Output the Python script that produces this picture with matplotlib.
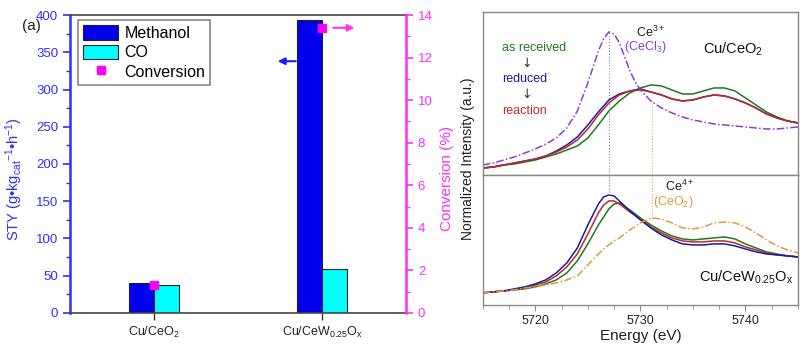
import numpy as np
import matplotlib.pyplot as plt
from matplotlib.ticker import MultipleLocator

plt.rcParams['font.family'] = ['Liberation Sans', 'DejaVu Sans']
plt.rcParams['mathtext.fontset'] = 'custom'
plt.rcParams['mathtext.rm'] = 'Liberation Sans'
plt.rcParams['mathtext.it'] = 'Liberation Sans:italic'

# ---- panel (a): bar data
catalysts = ['Cu/CeO$_2$', r'Cu/CeW$_{0.25}$O$_\mathrm{x}$']
sty_methanol = [40, 393]
sty_co = [38, 59]
conversion = [1.3, 13.4]

# ---- panel (b): Ce L3-edge XANES (arbitrary units)
e_grid = [5715, 5716, 5717, 5718, 5719, 5720, 5721, 5722, 5723, 5724, 5725,
          5726, 5727, 5728, 5729, 5730, 5731, 5732, 5733, 5734, 5735, 5736,
          5737, 5738, 5739, 5740, 5741, 5742, 5743, 5744, 5745]
top_received = [7, 8, 10, 11, 13, 15, 18, 21, 25, 29, 37, 50, 64, 74, 82, 87,
                90, 89, 85, 81, 81, 84, 87, 87, 84, 77, 70, 63, 58, 54, 52]
top_reduced = [7, 8, 10, 12, 14, 16, 19, 24, 30, 38, 50, 63, 75, 81, 84, 86,
               83, 80, 76, 74, 75, 78, 80, 79, 76, 72, 67, 61, 57, 54, 52]
top_reaction = [7, 8, 10, 12, 14, 16, 19, 23, 28, 35, 46, 60, 72, 80, 84, 85,
                83, 80, 76, 74, 75, 78, 80, 79, 76, 72, 67, 61, 57, 54, 52]

e_ref = [5715, 5716, 5717, 5718, 5719, 5720, 5721, 5722, 5723, 5724, 5725,
         5726, 5726.5, 5727, 5727.5, 5728, 5728.5, 5729, 5729.5, 5730, 5731,
         5732, 5733, 5734, 5735, 5736, 5737, 5738, 5739, 5740, 5741, 5742,
         5743, 5744, 5745]
cecl3 = [10, 12, 15, 18, 22, 26, 31, 37, 47, 64, 92, 124, 136, 143, 141, 132,
         118, 104, 93, 85, 74, 67, 62, 58, 55, 53, 51, 50, 49, 48, 47, 46, 46,
         47, 48]

e_bot = [5715, 5716, 5717, 5718, 5719, 5720, 5721, 5722, 5723, 5724, 5725,
         5726, 5726.5, 5727, 5727.5, 5728, 5729, 5730, 5731, 5732, 5733, 5734,
         5735, 5736, 5737, 5738, 5739, 5740, 5741, 5742, 5743, 5744, 5745]
bot_received = [12, 13, 14, 15, 16, 18, 21, 25, 32, 44, 61, 80, 88, 96, 101,
                102, 95, 87, 80, 74, 69, 66, 65, 66, 67, 68, 66, 61, 57, 53, 51,
                49, 48]
bot_reduced = [12, 13, 14, 16, 18, 21, 25, 32, 42, 57, 80, 101, 108, 110, 109,
               104, 94, 85, 77, 70, 65, 61, 60, 60, 61, 61, 59, 56, 53, 51, 50,
               49, 48]
bot_reaction = [12, 13, 14, 15, 17, 20, 23, 29, 38, 51, 71, 92, 100, 104, 104,
                101, 93, 86, 78, 72, 67, 64, 63, 63, 64, 64, 62, 58, 55, 52, 50,
                49, 48]
ceo2 = [12, 13, 14, 15, 17, 18, 20, 22, 25, 29, 40, 51, 56, 60, 64, 67, 75, 82,
        87, 86, 82, 77, 76, 78, 82, 83, 82, 78, 72, 65, 59, 55, 52]

ce3_edge = 5727.0
ce4_edge = 5731.1

BLUE = '#2f2fff'
PINK = '#ff2bff'
GREEN = '#1f7a1f'
NAVY = '#1a1aa6'
RED = '#c0282a'
PURPLE = '#8a3fd1'
ORANGE = '#e09a3a'

fig = plt.figure(figsize=(8.02, 3.5), dpi=100)

# ================= (a) =================
ax = fig.add_axes([0.0873, 0.106, 0.419, 0.851])
x = np.arange(len(catalysts))
w = 0.15
ax.bar(x - w / 2, sty_methanol, w, color='#0000ee', edgecolor='#222222',
       lw=0.8, label='Methanol', zorder=2)
ax.bar(x + w / 2, sty_co, w, color='#00ffff', edgecolor='#222222',
       lw=0.8, label='CO', zorder=2)
ax.set_xlim(-0.5, 1.5)
ax.set_ylim(0, 400)
ax.set_xticks(x)
ax.set_xticklabels(catalysts, fontsize=9, color='#222222')
ax.yaxis.set_major_locator(MultipleLocator(50))
ax.yaxis.set_minor_locator(MultipleLocator(25))
ax.tick_params(axis='y', which='both', colors=BLUE, labelsize=9.5, direction='out')
ax.tick_params(axis='y', which='major', length=5, width=1.2)
ax.tick_params(axis='y', which='minor', length=3, width=1)
ax.tick_params(axis='x', length=5, width=1, color='#333333')
ax.set_ylabel(r'STY (g•kg$_{\mathrm{cat}}$$^{-1}$•h$^{-1}$)', color=BLUE,
              fontsize=10.5, labelpad=2)
ax.yaxis.set_label_coords(-0.135, 0.45)
ax.spines['left'].set_color(BLUE)
ax.spines['left'].set_linewidth(1.8)
for s in ['top', 'bottom']:
    ax.spines[s].set_color('#444444')
    ax.spines[s].set_linewidth(1.2)
ax.spines['right'].set_visible(False)

ax2 = ax.twinx()
ax2.plot(x, conversion, 's', color='#ff00ff', ms=6, label='Conversion',
         zorder=3)
ax2.set_ylim(0, 14)
ax2.yaxis.set_major_locator(MultipleLocator(2))
ax2.yaxis.set_minor_locator(MultipleLocator(1))
ax2.tick_params(axis='y', which='both', colors=PINK, labelsize=9.5, direction='out')
ax2.tick_params(axis='y', which='major', length=5, width=1.2)
ax2.tick_params(axis='y', which='minor', length=3, width=1)
ax2.set_ylabel('Conversion (%)', color=PINK, fontsize=11, labelpad=2)
ax2.yaxis.set_label_coords(1.1, 0.45)
ax2.spines['right'].set_color(PINK)
ax2.spines['right'].set_linewidth(1.8)
for s in ['top', 'bottom', 'left']:
    ax2.spines[s].set_visible(False)

ax2.annotate('', xy=(0.72, 338 * 14 / 400), xytext=(0.86, 338 * 14 / 400),
             arrowprops=dict(arrowstyle='-|>', color='#1a1aff', lw=1.5,
                             mutation_scale=10))
ax2.annotate('', xy=(1.21, 13.4), xytext=(1.05, 13.4),
             arrowprops=dict(arrowstyle='-|>', color='#ff33ff', lw=1.5,
                             mutation_scale=10))

h1, l1 = ax.get_legend_handles_labels()
h2, l2 = ax2.get_legend_handles_labels()
leg = ax2.legend(h1 + h2, l1 + l2, loc='upper left', bbox_to_anchor=(0.025, 0.982),
                 borderaxespad=0, fontsize=11.5, frameon=True, fancybox=False,
                 handlelength=2.2, handleheight=1.05, labelspacing=0.22,
                 handletextpad=0.4, borderpad=0.3, framealpha=1)
leg.get_frame().set_edgecolor('#888888')
leg.get_frame().set_linewidth(1.2)

fig.text(0.027, 0.927, '(a)', fontsize=11, color='#222222', ha='left', va='center')

# ================= (b) =================
axt = fig.add_axes([0.602, 0.5, 0.393, 0.466])
axb = fig.add_axes([0.602, 0.129, 0.393, 0.371], sharex=axt)

axt.plot(e_grid, top_received, color=GREEN, lw=1.1)
axt.plot(e_grid, top_reduced, color=NAVY, lw=1.1)
axt.plot(e_grid, top_reaction, color=RED, lw=1.1)
axt.plot(e_ref, cecl3, color=PURPLE, lw=1.1, ls=(0, (5, 1.5, 1, 1.5)))
axt.vlines(ce3_edge, 0, 143, color='#7a7ab8', lw=0.8, ls=':')
axt.vlines(ce4_edge, 0, 75, color='#d8b060', lw=0.8, ls=':')
axt.set_ylim(0, 163)

axb.plot(e_bot, bot_received, color=GREEN, lw=1.1)
axb.plot(e_bot, bot_reaction, color=RED, lw=1.1)
axb.plot(e_bot, bot_reduced, color=NAVY, lw=1.1)
axb.plot(e_bot, ceo2, color=ORANGE, lw=1.1, ls=(0, (5, 1.5, 1, 1.5)))
axb.vlines(ce3_edge, 110, 130, color='#7a7ab8', lw=0.8, ls=':')
axb.vlines(ce4_edge, 87, 130, color='#d8b060', lw=0.8, ls=':')
axb.set_ylim(0, 130)
axb.set_xlim(5715, 5745)

for a in (axt, axb):
    a.set_yticks([])
    for s in a.spines.values():
        s.set_color('#888888')
        s.set_linewidth(1.0)
axt.tick_params(axis='x', which='both', bottom=False, labelbottom=False)
axb.xaxis.set_major_locator(MultipleLocator(10))
axb.xaxis.set_minor_locator(MultipleLocator(2.5))
axb.tick_params(axis='x', which='major', length=4, color='#888888',
                labelsize=9, labelcolor='#222222')
axb.tick_params(axis='x', which='minor', length=3, color='#888888')
axb.set_xlabel('Energy (eV)', fontsize=11, color='#222222', labelpad=1)

axt.text(5716.8, 127, 'as received', color=GREEN, fontsize=9, va='center')
axt.text(5719.2, 111, '↓', color='#333333', fontsize=9, va='center', ha='center',
         family=['DejaVu Sans'])
axt.text(5716.8, 96, 'reduced', color=NAVY, fontsize=9, va='center')
axt.text(5719.2, 80, '↓', color='#333333', fontsize=9, va='center', ha='center',
         family=['DejaVu Sans'])
axt.text(5716.8, 64, 'reaction', color=RED, fontsize=9, va='center')
axt.text(5729.6, 143, 'Ce$^{3+}$', color='#222222', fontsize=9, va='center')
axt.text(5728.4, 128, '(CeCl$_3$)', color=PURPLE, fontsize=9, va='center')
axt.text(5736.0, 126, 'Cu/CeO$_2$', color='#111111', fontsize=10.5, va='center')

axb.text(5732.3, 119, 'Ce$^{4+}$', color='#222222', fontsize=9, va='center')
axb.text(5731.2, 103, '(CeO$_2$)', color=ORANGE, fontsize=9, va='center')
axb.text(5735.6, 28, r'Cu/CeW$_{0.25}$O$_\mathrm{x}$', color='#111111',
         fontsize=10.5, va='center')

fig.text(0.584, 0.547, 'Normalized Intensity (a.u.)', rotation=90, fontsize=10,
         color='#222222', ha='center', va='center')

fig.savefig('out.png', dpi=100)
